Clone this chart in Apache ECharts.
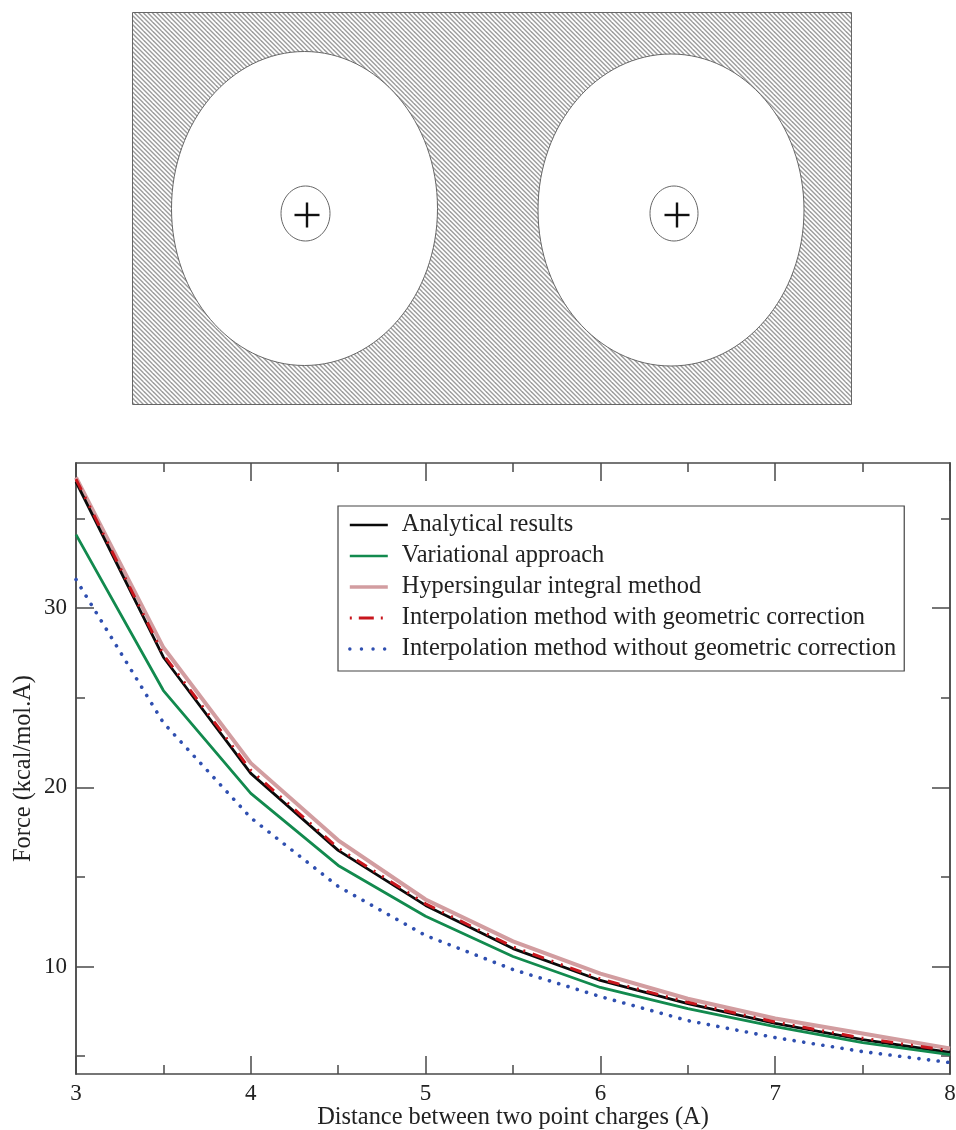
<!DOCTYPE html>
<html>
<head>
<meta charset="utf-8">
<style>html,body{margin:0;padding:0;background:#fff}#c{width:956px;height:1130px}</style>
<script src="https://cdn.jsdelivr.net/npm/echarts@6/dist/echarts.min.js"></script>
</head>
<body>
<div id="c"></div>
<script>
const distances = [3, 3.5, 4, 4.5, 5, 5.5, 6, 6.5, 7, 7.5, 8];
const analytical = [37.04, 27.26, 20.78, 16.48, 13.41, 11.0, 9.22, 7.93, 6.82, 5.92, 5.2];
const variational = [34.1, 25.4, 19.66, 15.64, 12.8, 10.56, 8.83, 7.65, 6.65, 5.75, 5.08];
const hypersingular = [37.3, 27.8, 21.35, 17.04, 13.74, 11.4, 9.6, 8.2, 7.1, 6.26, 5.42];
const interpWith = [37.2, 27.4, 20.95, 16.6, 13.5, 11.1, 9.3, 8.0, 6.9, 6.0, 5.3];
const interpWithout = [31.6, 23.6, 18.3, 14.47, 11.73, 9.83, 8.32, 6.98, 6.03, 5.25, 4.64];
const yMajorTicks = [10, 20, 30];
const yMinorTicks = [5, 15, 25, 35];
const pair = v => v.map((y, i) => [distances[i], y]);

const tile = document.createElement('canvas');
tile.width = 9; tile.height = 9;
const t = tile.getContext('2d');
t.strokeStyle = '#9c9c9c';
t.lineWidth = 1.4;
for (let k = -9; k <= 9; k += 4.5) {
  t.beginPath(); t.moveTo(k - 1, -1); t.lineTo(k + 10, 10); t.stroke();
}

const FONT = '"Liberation Serif", serif';
const AXC = '#4a4a4a';
const line = (cfg) => ({type: 'line', showSymbol: false, symbol: 'none', animation: false, silent: true, ...cfg});

const yCommon = {type: 'value', min: 4, max: 38.1, gridIndex: 0, splitLine: {show: false},
  axisLine: {show: true, lineStyle: {color: AXC, width: 1.5}}};
const yAxis = [
  {...yCommon, position: 'left', name: 'Force (kcal/mol.A)', nameLocation: 'middle', nameGap: 40, nameRotate: 90, nameMoveOverlap: false,
    nameTextStyle: {fontFamily: FONT, fontSize: 24.4, color: '#222'},
    axisTick: {inside: true, length: 18, customValues: yMajorTicks, lineStyle: {color: AXC, width: 1.5}},
    axisLabel: {customValues: yMajorTicks, fontFamily: FONT, fontSize: 23, color: '#222', margin: 9}},
  {...yCommon, position: 'left', axisLabel: {show: false},
    axisTick: {inside: true, length: 9, customValues: yMinorTicks, lineStyle: {color: AXC, width: 1.5}}},
  {...yCommon, position: 'right', axisLabel: {show: false},
    axisTick: {inside: true, length: 18, customValues: yMajorTicks, lineStyle: {color: AXC, width: 1.5}}},
  {...yCommon, position: 'right', axisLabel: {show: false},
    axisTick: {inside: true, length: 9, customValues: yMinorTicks, lineStyle: {color: AXC, width: 1.5}}}
];
const xCommon = {type: 'value', min: 3, max: 8, interval: 1, splitLine: {show: false}, minorSplitLine: {show: false},
  axisLine: {show: true, lineStyle: {color: AXC, width: 1.5}},
  axisTick: {inside: true, length: 18, lineStyle: {color: AXC, width: 1.5}},
  minorTick: {show: true, splitNumber: 2, length: 9, lineStyle: {color: AXC, width: 1.5}}};
const xAxis = [
  {...xCommon, position: 'bottom', name: 'Distance between two point charges (A)', nameLocation: 'middle', nameGap: 32, nameMoveOverlap: false,
    nameTextStyle: {fontFamily: FONT, fontSize: 24.4, color: '#222'},
    axisLabel: {fontFamily: FONT, fontSize: 23, color: '#222', margin: 8, hideOverlap: false, showMinLabel: true, showMaxLabel: true}},
  {...xCommon, position: 'top', axisLabel: {show: false}}
];

const ell = (cx, cy, rx, ry, fill) => ({type: 'ellipse', shape: {cx, cy, rx, ry},
  style: {fill: fill, stroke: '#666', lineWidth: 1}});
const plus = (x, y) => ([
  {type: 'line', shape: {x1: x - 12.5, y1: y, x2: x + 12.5, y2: y}, style: {stroke: '#111', lineWidth: 2.4}},
  {type: 'line', shape: {x1: x, y1: y - 12.5, x2: x, y2: y + 12.5}, style: {stroke: '#111', lineWidth: 2.4}}
]);

const chart = echarts.init(document.getElementById('c'), null, {renderer: 'canvas'});
chart.setOption({
  animation: false,
  backgroundColor: '#fff',
  grid: {left: 76, right: 6, top: 463, bottom: 56, containLabel: false, outerBoundsMode: 'none'},
  xAxis, yAxis,
  legend: {
    orient: 'vertical', left: 338, top: 506, padding: [7, 8, 10, 10],
    backgroundColor: '#fff', borderColor: '#444', borderWidth: 1.2, borderRadius: 0,
    itemWidth: 38, itemHeight: 14, itemGap: 7, align: 'left',
    itemStyle: {opacity: 0},
    textStyle: {fontFamily: FONT, fontSize: 24.4, color: '#222', padding: [0, 0, 0, 9]},
    data: [{name: 'Analytical results', lineStyle: {width: 2.6}},
      {name: 'Variational approach', lineStyle: {width: 2.6}},
      {name: 'Hypersingular integral method', lineStyle: {width: 3.6}},
      {name: 'Interpolation method with geometric correction', lineStyle: {width: 2.8, type: [2, 7, 15, 7, 2, 7]}},
      {name: 'Interpolation method without geometric correction', lineStyle: {width: 3.4, type: [0.1, 11.5], cap: 'round'}}]
  },
  series: [
    line({name: 'Analytical results', data: pair(analytical), z: 3, lineStyle: {color: '#0a0a0a', width: 2.8}, itemStyle: {color: '#0a0a0a'}}),
    line({name: 'Variational approach', data: pair(variational), z: 3, lineStyle: {color: '#128a4e', width: 2.8}, itemStyle: {color: '#128a4e'}}),
    line({name: 'Hypersingular integral method', data: pair(hypersingular), z: 2, lineStyle: {color: '#d29da0', width: 4}, itemStyle: {color: '#d29da0'}}),
    line({name: 'Interpolation method with geometric correction', data: pair(interpWith), z: 4,
      lineStyle: {color: '#c8161d', width: 3, type: [12, 8, 2, 8, 2, 8]}, itemStyle: {color: '#c8161d'}}),
    line({name: 'Interpolation method without geometric correction', data: pair(interpWithout), z: 3,
      lineStyle: {color: '#2f4fb0', width: 3.6, type: [0.1, 9.6], cap: 'round'}, itemStyle: {color: '#2f4fb0'}})
  ],
  graphic: [
    {type: 'rect', shape: {x: 132.5, y: 12.5, width: 719, height: 392},
      style: {fill: {image: tile, repeat: 'repeat'}, stroke: '#666', lineWidth: 1}},
    ell(304.5, 208.5, 133, 157, '#fff'),
    ell(671, 210, 133, 156, '#fff'),
    ell(305.5, 213.5, 24.5, 27.5, '#fff'),
    ell(674, 213.5, 24, 27.5, '#fff'),
    ...plus(307, 215),
    ...plus(677, 215)
  ]
});
</script>
</body>
</html>
